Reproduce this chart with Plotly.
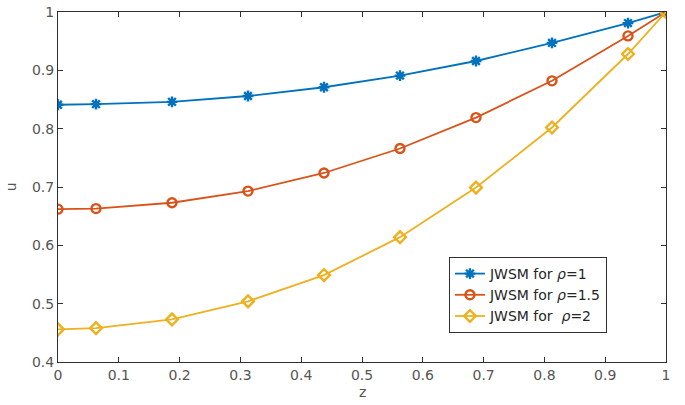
import plotly.graph_objects as go

z = [0, 0.0625, 0.1875, 0.3125, 0.4375, 0.5625, 0.6875, 0.8125, 0.9375, 1.0]
u_rho1 = [0.841, 0.842, 0.846, 0.856, 0.871, 0.891, 0.916, 0.947, 0.981, 1.0]
u_rho15 = [0.662, 0.663, 0.673, 0.693, 0.724, 0.766, 0.819, 0.882, 0.959, 1.0]
u_rho2 = [0.456, 0.458, 0.473, 0.504, 0.549, 0.614, 0.699, 0.802, 0.928, 1.0]
names = ["JWSM for <i>ρ</i>=1", "JWSM for <i>ρ</i>=1.5", "JWSM for&nbsp;&nbsp;<i>ρ</i>=2"]
colors = ["#0072BD", "#D95319", "#EDB120"]
symbols = ["asterisk-open", "circle-open", "diamond-open"]
xticks = [0, 0.1, 0.2, 0.3, 0.4, 0.5, 0.6, 0.7, 0.8, 0.9, 1]
yticks = [0.4, 0.5, 0.6, 0.7, 0.8, 0.9, 1]

FONT = "DejaVu Sans, Liberation Sans, Arial"

fig = go.Figure()
for ys, n, c, s in zip([u_rho1, u_rho15, u_rho2], names, colors, symbols):
    fig.add_trace(go.Scatter(
        x=z, y=ys, name=n, mode="lines+markers",
        line=dict(color=c, width=1.8),
        marker=dict(symbol=s, size=9, color=c, line=dict(color=c, width=2.4)),
    ))

axis_common = dict(
    showline=True, mirror="ticks", linecolor="#303030", linewidth=1,
    ticks="inside", ticklen=5, tickcolor="#303030", showgrid=False, zeroline=False,
    automargin=False, ticklabeloverflow="allow",
    tickfont=dict(family=FONT, size=14, color="#555555"),
)
fig.update_xaxes(range=[0, 1], tickvals=xticks, ticktext=[f"{v:g}" for v in xticks],
                 **axis_common)
fig.update_yaxes(range=[0.4, 1], tickvals=yticks, ticktext=[f"{v:g}" for v in yticks],
                 **axis_common)
fig.add_annotation(text="z", xref="paper", yref="paper", x=0.5, y=-0.086,
                   xanchor="center", yanchor="middle", showarrow=False,
                   font=dict(family=FONT, size=14, color="#555555"))
fig.add_annotation(text="u", xref="paper", yref="paper", x=-0.077, y=0.5,
                   xanchor="center", yanchor="middle", showarrow=False, textangle=-90,
                   font=dict(family=FONT, size=14, color="#555555"))
fig.update_layout(
    width=685, height=405,
    margin=dict(l=58, r=19, t=12, b=43),
    paper_bgcolor="white", plot_bgcolor="white",
    legend=dict(x=0.643, y=0.30, xanchor="left", yanchor="top",
                bgcolor="white", bordercolor="#303030", borderwidth=1,
                font=dict(family=FONT, size=14, color="#262626"),
                tracegroupgap=0, itemwidth=30),
    showlegend=True,
)
fig.write_html("out.html", config={"displayModeBar": False},
               post_script="document.body.style.margin='0';document.body.style.overflow='hidden';")
